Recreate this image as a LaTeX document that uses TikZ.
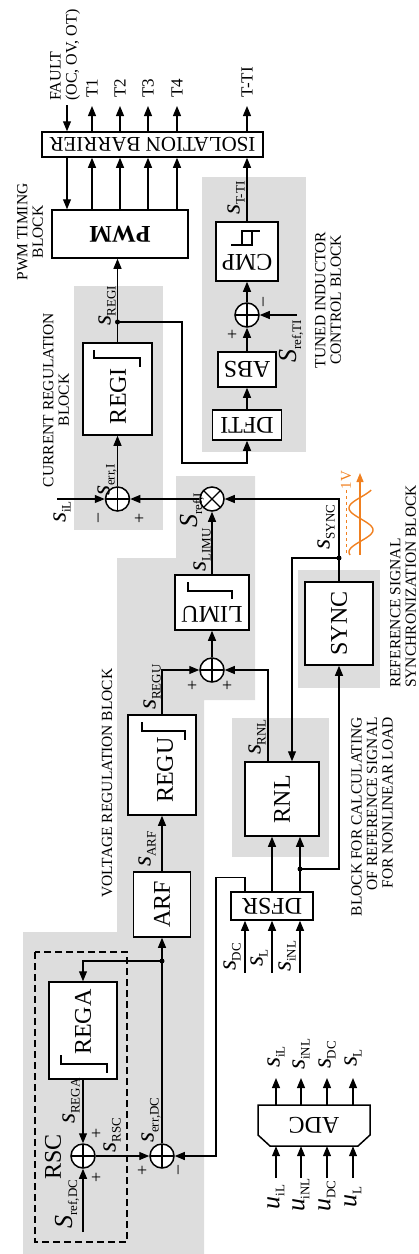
\documentclass[tikz,border=0pt]{standalone}
\usepackage{fontspec}
\setmainfont{Liberation Serif}
\usetikzlibrary{arrows.meta,calc}
\definecolor{bg}{RGB}{221,221,221}
\definecolor{sinor}{RGB}{240,128,32}
\newcommand\fs[1]{\fontsize{#1}{#1}\selectfont}
\newcommand\sg[2]{{\fs{26}\itshape #1}\kern-0.5pt\raisebox{-5pt}{\fs{13}#2}}
\begin{document}
\begin{tikzpicture}[x=1pt,y=-1pt,
  blk/.style={draw, line width=1.5pt, fill=white, inner sep=0},
  arr/.style={line width=1.1pt, -{Triangle[length=10pt,width=8pt]}},
  ln/.style={line width=1.1pt},
  ico/.style={line width=1.1pt},
  sumc/.style={circle, draw, line width=1.5pt, fill=white, minimum size=24pt, inner sep=0,
    path picture={\draw[line width=1.2pt] (path picture bounding box.north) -- (path picture bounding box.south)
      (path picture bounding box.east) -- (path picture bounding box.west);}},
  mulc/.style={circle, draw, line width=1.5pt, fill=white, minimum size=24pt, inner sep=0,
    path picture={\draw[line width=1.2pt] (path picture bounding box.north west) -- (path picture bounding box.south east)
      (path picture bounding box.north east) -- (path picture bounding box.south west);}},
  dot/.style={circle, fill, inner sep=0, minimum size=5pt},
  rl/.style={rotate=90, inner sep=0},
  bt/.style={rotate=90, inner sep=0, font=\fs{24}},
  bu/.style={rotate=180, inner sep=0, font=\fs{24}},
  captxt/.style={rotate=90, inner sep=0, font=\fs{15.5}, align=center},
  sgn/.style={rotate=90, inner sep=0, font=\fs{18}}
]
\useasboundingbox (0,0) rectangle (419,1254);
% ---- gray backgrounds
\fill[bg] (74,286) rectangle (163,530);
\fill[bg] (202,177) rectangle (306,452);
\fill[bg] (176,476) -- (255,476) -- (255,700) -- (204,700) -- (204,1254) -- (23,1254) -- (23,932) -- (117,932) -- (117,558) -- (176,558) -- cycle;
\fill[bg] (232,718) rectangle (329,857);
\fill[bg] (298,570) rectangle (380,688);
\draw[line width=1.1pt, dash pattern=on 7pt off 4pt] (35,952) rectangle (127,1242);

% ---- blocks
\node[blk, minimum width=221pt, minimum height=25pt] (ISO) at (152.5,144.5) {};
\node[bu, font=\fs{21}] at (ISO) {ISOLATION BARRIER};
\node[blk, minimum width=136pt, minimum height=48pt] (PWM) at (120,234) {};
\node[bu, font=\fs{24}\bfseries] at (PWM) {PWM};
\node[blk, minimum width=69pt, minimum height=92pt] (REGI) at (117.5,389) {};
\node[bt] at (118,396) {REGI};
\draw[ico] (94,350) -- (94,358) -- (140,358) -- (140,367);
\node[blk, minimum width=62pt, minimum height=59pt] (CMP) at (247,251.5) {};
\node[bu] at (247,262) {CMP};
\draw[ico] (231,245) -- (242,245) -- (242,231) -- (260,231) (252,231) -- (252,245) -- (242,245);
\node[sumc] (sTI) at (247,315) {};
\node[blk, minimum width=58pt, minimum height=35pt] (ABS) at (247,369.5) {};
\node[bu] at (ABS) {ABS};
\node[blk, minimum width=69pt, minimum height=30pt] (DFTI) at (247,425) {};
\node[bu] at (DFTI) {DFTI};
\node[sumc] (sI) at (117.5,499) {};
\node[mulc] (mul) at (212,499) {};
\node[blk, minimum width=74pt, minimum height=55pt] (LIMU) at (212,602.5) {};
\node[bu] at (212,614) {LIMU};
\draw[ico] (188,582) -- (188,591) -- (232,591) -- (232,599);
\node[sumc] (sU) at (212,670) {};
\node[blk, minimum width=68pt, minimum height=100pt] (REGU) at (162,765) {};
\node[bt] at (165,770) {REGU};
\draw[ico] (142,722) -- (142,731) -- (185,731) -- (185,740);
\node[blk, minimum width=57pt, minimum height=65pt] (ARF) at (162,904.5) {};
\node[bt] at (ARF) {ARF};
\node[blk, minimum width=68pt, minimum height=83pt] (SYNC) at (339,623.5) {};
\node[bt] at (SYNC) {SYNC};
\node[blk, minimum width=74pt, minimum height=74pt] (RNL) at (282,799) {};
\node[bt] at (RNL) {RNL};
\node[blk, minimum width=82pt, minimum height=28pt] (DFSR) at (272,906) {};
\node[bu] at (DFSR) {DFSR};
\node[blk, minimum width=68pt, minimum height=97pt] (REGA) at (83,1030.5) {};
\node[bt] at (83,1022) {REGA};
\draw[ico] (61,1055) -- (61,1064) -- (107,1064) -- (107,1073);
\node[sumc] (sR) at (83,1156) {};
\node[sumc] (sDC) at (162,1156) {};
\node[minimum width=112pt, minimum height=41pt, inner sep=0] (ADC) at (314,1125.5) {};
\draw[line width=1.5pt, fill=white] (258,1105) -- (370,1105) -- (370,1135) -- (358,1146) -- (270,1146) -- (258,1135) -- cycle;
\node[bu] at (ADC) {ADC};

% ---- dots
\node[dot] (d1) at (117.5,322) {};
\node[dot] (d2) at (339,558) {};
\node[dot] (d3) at (300,869) {};
\node[dot] (d4) at (162,961) {};

% ---- connectors top
\coordinate (fault) at (67,105);
\draw[arr] (fault) -- (fault |- ISO.north);
\draw[arr] (fault |- ISO.south) -- (fault |- PWM.north);
\foreach \x/\n in {92/1,120/2,148/3,177/4}{
  \coordinate (t\n) at (\x,106);
  \draw[arr] (t\n |- PWM.north) -- (t\n |- ISO.south);
  \draw[arr] (t\n |- ISO.north) -- (t\n);
}
\coordinate (tti) at (247,106);
\draw[arr] (CMP.north) -- (CMP.north |- ISO.south);
\draw[arr] (CMP.north |- ISO.north) -- (tti);
\draw[arr] (REGI.north) -- (REGI.north |- PWM.south);
\draw[arr] (d1.center) -| (182,463) -| (DFTI.south);
\draw[arr] (DFTI.north) -- (ABS.south);
\draw[arr] (ABS.north) -- (sTI.south);
\draw[arr] (sTI.north) -- (CMP.south);
\coordinate (rti) at (297,315);
\draw[arr] (rti) -- (sTI.east);
% current loop
\draw[arr] (sI.north) -- (REGI.south);
\coordinate (il) at (57,499);
\draw[arr] (il) -- (sI.west);
\draw[arr] (mul.west) -- (sI.east);
\draw[arr] (LIMU.north) -- (mul.south);
\draw[arr] (sU.north) -- (LIMU.south);
\draw[arr] (REGU.north) |- (sU.west);
\draw[arr] ([xshift=-14pt]RNL.north) |- (sU.east);
\draw[arr] (ARF.north) -- (REGU.south);
\draw[arr] (sDC.north) -- (ARF.south);
\draw[arr] (d4.center) -| (REGA.north);
\draw[arr] (REGA.south) -- (sR.north);
\coordinate (rdc) at (83,1232);
\draw[arr] (rdc) -- (sR.south);
\draw[arr] (sR.east) -- (sDC.west);
% DFSR / RNL / SYNC
\coordinate (o1) at ([xshift=-27pt]DFSR.north);
\coordinate (o3) at ([xshift=28pt]DFSR.north);
\draw[arr] (o1) -- ++(0,-14) -| (216,1156) -- (sDC.east);
\draw[arr] (DFSR.north) -- (DFSR.north |- RNL.south);
\draw[arr] (o3) -- (o3 |- RNL.south);
\draw[arr] (d3.center) -| (SYNC.south);
\draw[ln] (SYNC.north) -- (d2.center);
\draw[arr] (d2.center) |- (mul.east);
\draw[arr] (d2.center) -| ([xshift=10pt]RNL.north);
\foreach \dx/\n in {-27/1,0/2,28/3}{
  \coordinate (fi\n) at ([xshift=\dx pt, yshift=-52pt]DFSR.south);
  \draw[arr] (fi\n) -- (fi\n |- DFSR.south);
}
% ADC
\foreach \x/\n in {276/1,301/2,327/3,353/4}{
  \coordinate (ao\n) at (\x,1078);
  \coordinate (ai\n) at (\x,1178);
  \draw[arr] (ao\n |- ADC.north) -- (ao\n);
  \draw[arr] (ai\n) -- (ai\n |- ADC.south);
}

% ---- sine
\draw[sinor, line width=0.6pt, dashed] (346,490) -- (346,555);
\draw[sinor, line width=1.2pt, -{Triangle[length=9pt,width=7pt]}] (360,555) -- (360,473);
\draw[sinor, line width=1.4pt] plot[domain=490:555, samples=60, smooth] ({361+12*sin(360*(530-\x)/44+90)}, \x);
\node[rl, text=sinor, font=\fs{15}] at (346,480) {1V};

% ---- captions
\node[rl, anchor=west, font=\fs{16}, align=left] at (65,101) {FAULT\\(OC, OV, OT)};
\foreach \x/\t in {92/T1,120/T2,148/T3,177/T4,247/T-TI}
  \node[rl, anchor=west, font=\fs{17}] at (\x,98) {\t};
\node[captxt] at (30,232) {PWM TIMING\\BLOCK};
\node[captxt] at (56,400) {CURRENT REGULATION\\BLOCK};
\node[captxt] at (107,783) {VOLTAGE REGULATION BLOCK};
\node[captxt] at (328,300) {TUNED INDUCTOR\\CONTROL BLOCK};
\node[captxt, anchor=west, align=left] at (403,688) {REFERENCE SIGNAL\\SYNCHRONIZATION BLOCK};
\node[captxt, anchor=east, align=right] at (372,717) {BLOCK FOR CALCULATING\\OF REFERENCE SIGNAL\\FOR NONLINEAR LOAD};
\node[bt] at (53,1157) {RSC};

% ---- signal labels
\node[rl] at (107,306) {\sg{s}{REGI}};
\node[rl] at (107,480) {\sg{s}{err,I}};
\node[rl] at (62,512) {\sg{s}{iL}};
\node[rl] at (192,510) {\sg{S}{ref,I}};
\node[rl] at (202,550) {\sg{s}{LIMU}};
\node[rl] at (326,527) {\sg{s}{SYNC}};
\node[rl] at (236,198) {\sg{s}{T-TI}};
\node[rl] at (291,341) {\sg{S}{ref,TI}};
\node[rl] at (152,687) {\sg{s}{REGU}};
\node[rl] at (257,737) {\sg{s}{RNL}};
\node[rl] at (147,849) {\sg{s}{ARF}};
\node[rl] at (232,957) {\sg{s}{DC}};
\node[rl] at (259,958) {\sg{s}{L}};
\node[rl] at (287,956) {\sg{s}{iNL}};
\node[rl] at (276,1057) {\sg{s}{iL}};
\node[rl] at (301,1054) {\sg{s}{iNL}};
\node[rl] at (327,1055) {\sg{s}{DC}};
\node[rl] at (353,1058) {\sg{s}{L}};
\node[rl] at (276,1197) {\sg{u}{iL}};
\node[rl] at (301,1195) {\sg{u}{iNL}};
\node[rl] at (327,1196) {\sg{u}{DC}};
\node[rl] at (353,1197) {\sg{u}{L}};
\node[rl] at (71,1101) {\sg{s}{REGA}};
\node[rl] at (67,1204) {\sg{S}{ref,DC}};
\node[rl] at (112,1135) {\sg{s}{RSC}};
\node[rl] at (151,1120) {\sg{s}{err,DC}};
% ---- signs
\node[sgn] at (100,518) {--};
\node[sgn] at (140,518) {+};
\node[sgn] at (265,302) {--};
\node[sgn] at (233,334) {+};
\node[sgn] at (193,685) {+};
\node[sgn] at (228,685) {+};
\node[sgn] at (143,1170) {+};
\node[sgn] at (180,1170) {--};
\node[sgn] at (97,1133) {+};
\node[sgn] at (97,1177) {+};
\end{tikzpicture}
\end{document}
